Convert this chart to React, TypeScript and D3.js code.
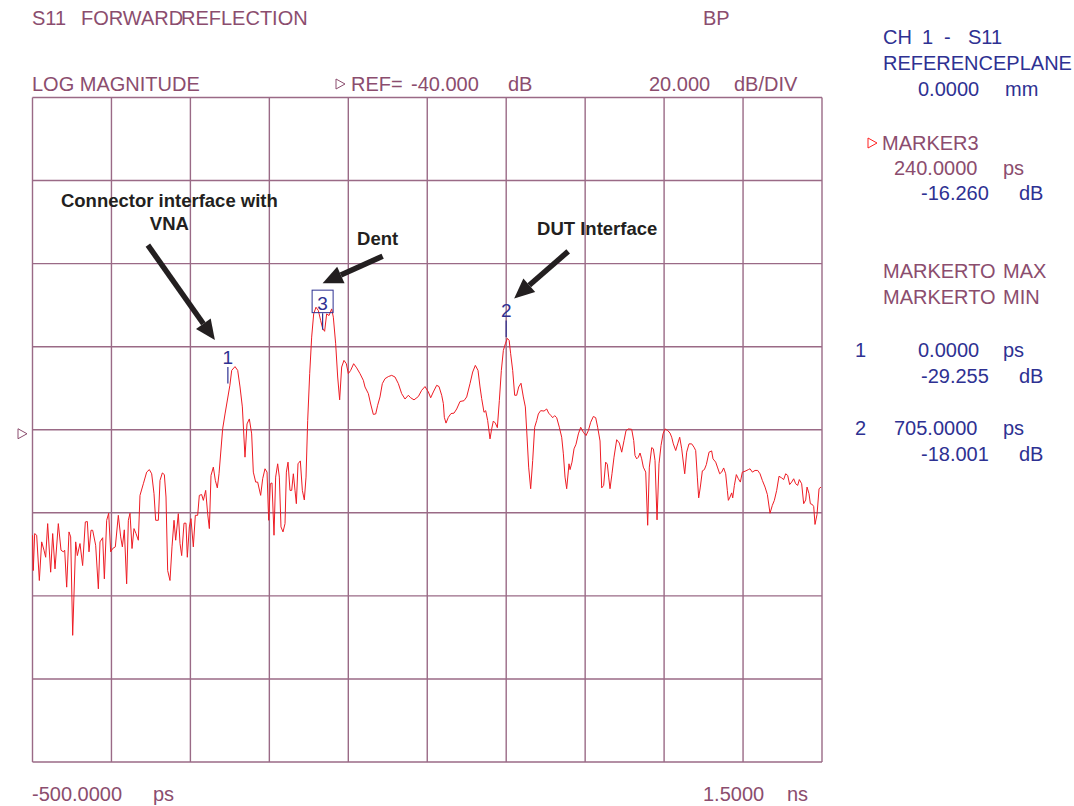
import { useEffect, useRef } from 'react';
import * as d3 from 'd3';

const W = 1074;
const H = 806;
const PLOT = { left: 32.5, right: 822, top: 97.5, bottom: 762 };

const MAROON = '#8b4d6e';
const BLUE = '#2e3192';
const GRID = '#9a6a86';
const TRACE = '#ee1c24';
const FONT = '"Liberation Sans", Arial, sans-serif';

// time axis (ps) and log-mag axis (dB)
const timeStart = -500;
const timeStop = 1500;
const xDivs = 10;
const refDb = -40;
const dbPerDiv = 20;
const yDivs = 8;

// trace, time in ps
const traceTime = [
  -500, -498, -494.5, -489.4, -482.7, -476.8, -470.9, -466.6, -461.6, -454, -448.9, -443, -434.6, -427.8,
  -421.9, -418.5, -413.4, -407.5, -403.3, -398.2, -390.6, -386.4, -379.7, -373, -366.2, -361.1, -356.9,
  -351.8, -347.6, -340, -333.2, -329, -322.2, -318, -312.1, -307, -302, -296.9, -290.2, -282.6, -276.6,
  -272.4, -267.4, -261.5, -257.2, -253, -247.9, -242.9, -237.8, -231.9, -227.7, -219.2, -210.8, -204,
  -198.1, -192.2, -188, -181.2, -177, -171.1, -166, -161.8, -157.6, -151.7, -146.6, -141.5, -137.3,
  -130.6, -126.3, -122.1, -116.2, -111.2, -107.8, -102.7, -98.5, -92.6, -87.5, -81.6, -77.4, -71.5,
  -67.2, -61.3, -56.3, -52, -47.8, -41.9, -36.8, -31.8, -27.5, -18.3, -12.3, 0, 4.6, 13, 19.8, 25.7,
  31.6, 38.3, 43.4, 49.3, 55.2, 59.4, 65.4, 70.4, 78, 83.1, 89, 94.1, 98.3, 102.5, 106.7, 111.8, 116,
  121.1, 125.3, 129.5, 134.6, 139.7, 143.1, 147.3, 152.3, 156.6, 160.8, 165, 168.4, 172.6, 178.5, 183.6,
  188.6, 192.9, 197.1, 202.2, 207.2, 212.3, 218.2, 224.1, 230, 235, 240, 245.2, 251.1, 257.9, 262.1, 268,
  273.1, 278.1, 283.2, 289.1, 295, 300.1, 306, 313.6, 321.2, 329.7, 338.1, 342.3, 350.8, 356.7, 363.4,
  369.4, 374.4, 380.3, 386.2, 393, 401.4, 409.9, 418.3, 426.8, 435.2, 443.7, 452.1, 458, 466.5, 477.4,
  485.9, 494.3, 502.8, 508.7, 515.4, 523.9, 529.8, 536.6, 540.8, 543.3, 547.5, 553.4, 560.2, 567.8,
  574.6, 583, 593.1, 599.9, 608.3, 615.1, 621.8, 628.6, 633.7, 637.9, 643.8, 648, 653.1, 659, 663.2,
  667.4, 672.5, 677.6, 682.6, 687.7, 692.8, 697.8, 703, 707.5, 711.3, 716.4, 721.5, 726.5, 731.6, 737.5,
  743.4, 748.5, 751.9, 756.9, 762, 767.1, 772.1, 777.2, 781.4, 787.3, 795.8, 802.6, 807.6, 813.5, 817.8,
  822.8, 827.9, 834.6, 840.6, 844.8, 849, 853.2, 859.1, 861.7, 866.7, 871.8, 876.8, 882.8, 888.7, 895.4,
  902.2, 908.1, 914, 920.8, 926.7, 931.7, 937.7, 941.9, 946.9, 952, 956.2, 959.6, 963, 968, 973.1,
  979.9, 986.6, 992.6, 998.5, 1003.5, 1009.4, 1017.9, 1023, 1026.3, 1030.6, 1034.8, 1039, 1043.2,
  1047.4, 1053.4, 1058.4, 1062.6, 1068.6, 1072.8, 1077, 1082.1, 1087.1, 1092.2, 1097.3, 1102.3, 1109.1,
  1115, 1119.2, 1123.4, 1129.4, 1134.4, 1139.5, 1144.6, 1152.2, 1157.2, 1163.1, 1169.9, 1175.8, 1180,
  1184.2, 1187.6, 1191.8, 1196.9, 1202, 1207, 1213.8, 1220.5, 1223.9, 1230.7, 1235.8, 1240.8, 1245.9,
  1250.9, 1256, 1260.2, 1262.8, 1267, 1271.2, 1273.8, 1278, 1283, 1288.1, 1293.2, 1298.2, 1305, 1313.4,
  1317.7, 1323.6, 1330.3, 1337.1, 1343, 1348.9, 1355.7, 1361.6, 1368.3, 1374.2, 1379.3, 1385.2, 1391.1,
  1397.9, 1402.9, 1408, 1413.1, 1418.1, 1423.2, 1428.3, 1433.3, 1438.4, 1442.6, 1448.5, 1453.6, 1458.7,
  1462.1, 1467.1, 1470.5, 1475.6, 1479, 1482.3, 1487.4, 1492.5, 1497.5,
];

const traceDb = [
  -65.4, -73.9, -65, -65.4, -76.3, -67, -69, -70.7, -62.6, -74.3, -65, -73.5, -62.6, -69,
  -69.4, -69, -77.9, -64.6, -65.8, -89.5, -67, -70.3, -67.4, -72.7, -62.2, -62.1, -69.4,
  -64.2, -64.2, -67.8, -78.3, -67, -66, -75.9, -61.8, -60.1, -69.4, -68.6, -68.2, -60.6, -65.8,
  -68.2, -64.1, -77.1, -61.8, -60.1, -68.6, -63.8, -65, -66.6, -55.8, -53, -50.2, -49.6,
  -50.6, -55.4, -61.8, -61.8, -52.2, -50.4, -50.8, -56.2, -73.9, -76.3, -68.2, -61.8, -66.6,
  -60.2, -67.4, -70.3, -62.5, -62.5, -70.7, -63.4, -61.4, -68.2, -60.6, -60.6, -55.8, -55.6,
  -57, -54.6, -60.2, -63.8, -51, -49, -52.2, -54, -50.6, -39.8, -36.2, -29.3, -25.7, -24.8, -25.7, -29.7,
  -34.5, -46.6, -38.6, -37.4, -41, -50.2, -52.6, -52.6, -55.8, -51.8, -49.4, -50.2, -61.8, -53, -52.8, -65.4, -51.4,
  -48.2, -51.4, -63.4, -64.6, -62.6, -50.2, -47.8, -54.6, -54.6, -50.6, -54.6, -57.8, -48.2, -47.5, -54.6,
  -56.9, -51.4, -37.8, -26.5, -17.7, -12.1, -10.5, -11.3, -13.7, -15.6, -16.3, -12.1, -12.5, -10.9, -12.9, -19.3,
  -27.3, -32.8, -24.9, -23.3, -24.1, -26.5, -25.7, -24.1, -25.1, -26.5, -28.1, -29.7, -31.3, -33.8, -36.3,
  -36.2, -34.1, -32.1, -28.9, -27.7, -27.2, -26.9, -27.3, -28.9, -31.3, -32.6, -31.7, -32.3, -32.8, -32,
  -30.5, -29.6, -30.9, -32.3, -30.9, -29.3, -29.6, -31.7, -33.7, -37, -38.4, -37, -36.1, -36,
  -35, -33.2, -33, -32.1, -28.9, -26.1, -24.5, -25.7, -29.7, -32.5, -35.8, -35.4, -37.8, -42.2, -39.8,
  -37.9, -38.4, -39.5, -33, -25.7, -20.9, -19.3, -18, -18.5, -21.7, -25.7, -31.7, -31.7, -29.7, -28.8,
  -32.1, -34.5, -40.2, -49, -54.2, -47.4, -39.4, -37.8, -36.2, -35.4, -35.5, -35, -36, -36.6, -37.1,
  -36.6, -37.1, -39.4, -41.8, -45.8, -51.4, -54.2, -48.2, -49.6, -47.8, -44.6, -43.5, -41, -39.4, -40.6,
  -41.4, -40.2, -38.2, -36.8, -37.1, -39.4, -42.7, -54, -53.4, -47.8, -48.3, -51.4, -54.2, -50.6, -46.6,
  -42.4, -43.2, -45.4, -42.6, -40.2, -39.8, -39.9, -42.6, -46.2, -47, -46.6, -45.6, -47,
  -49, -50.2, -63, -49, -44.3, -44.6, -47.4, -61.7, -48.2, -43.8, -41, -39.8, -40.2,
  -40.8, -41.8, -43.4, -45, -43.4, -41.8, -44.6, -50.6, -45.4, -43.4, -43.4, -44.2, -45,
  -51.4, -56.4, -53.8, -49.9, -49.6, -48.4, -45.4, -45.1, -47, -47.8, -49.2, -50.6, -50.2,
  -49.2, -50.6, -54.6, -57, -56.2, -55.2, -56.4, -53.4, -50.8, -51.8, -52.6, -50.2, -50, -49.6,
  -49.4, -50.2, -49.8, -49.8, -50.6, -52.2, -53.8, -55.6, -60.1, -58.2, -57, -54.6, -51.2,
  -51.6, -52, -50.6, -51, -53.2, -52.6, -51.8, -53, -53.4, -52, -53, -57.8, -56.9,
  -53.8, -55.4, -57.8, -58, -58.5, -62.8, -60.4, -54.2, -53.8,
];

// markers: id, stimulus (ps), response (dB)
const markerIds = ['1', '2', '3'];
const markerTime = [0, 705, 240];
const markerDb = [-29.255, -18.001, -16.26];
const activeMarker = '3';

// callouts hang off the markers: text lines, text centre / baseline, arrow tail & tip (px offsets from marker)
const callouts = [
  { marker: '1', lines: ['Connector interface with', 'VNA'], tx: -58.5, ty: -178, tail: [-80, -140], tip: [-13, -45] },
  { marker: '3', lines: ['Dent'], tx: 55, ty: -86, tail: [60, -75], tip: [0, -48] },
  { marker: '2', lines: ['DUT Interface'], tx: 91, ty: -103, tail: [62, -87], tip: [8, -40] },
];

type Txt = { t: string; x: number; y: number; c: string };

const headerText: Txt[] = [
  { t: 'S11', x: 32, y: 25, c: MAROON },
  { t: 'FORWARD', x: 81, y: 25, c: MAROON },
  { t: 'REFLECTION', x: 181, y: 25, c: MAROON },
  { t: 'BP', x: 703, y: 25, c: MAROON },
  { t: 'LOG MAGNITUDE', x: 32, y: 91, c: MAROON },
  { t: 'REF=', x: 351, y: 91, c: MAROON },
  { t: '-40.000', x: 411, y: 91, c: MAROON },
  { t: 'dB', x: 508, y: 91, c: MAROON },
  { t: '20.000', x: 649, y: 91, c: MAROON },
  { t: 'dB/DIV', x: 734, y: 91, c: MAROON },
  { t: '-500.0000', x: 32, y: 801, c: MAROON },
  { t: 'ps', x: 153, y: 801, c: MAROON },
  { t: '1.5000', x: 703, y: 801, c: MAROON },
  { t: 'ns', x: 787, y: 801, c: MAROON },
];

const panelText: Txt[] = [
  { t: 'CH', x: 883, y: 44, c: BLUE },
  { t: '1', x: 922, y: 44, c: BLUE },
  { t: '-', x: 944, y: 44, c: BLUE },
  { t: 'S11', x: 968, y: 44, c: BLUE },
  { t: 'REFERENCEPLANE', x: 883, y: 70, c: BLUE },
  { t: '0.0000', x: 918, y: 96, c: BLUE },
  { t: 'mm', x: 1005, y: 96, c: BLUE },
  { t: 'MARKER3', x: 882, y: 150, c: MAROON },
  { t: '240.0000', x: 894, y: 175, c: MAROON },
  { t: 'ps', x: 1003, y: 175, c: MAROON },
  { t: '-16.260', x: 921, y: 200, c: BLUE },
  { t: 'dB', x: 1019, y: 200, c: BLUE },
  { t: 'MARKERTO', x: 883, y: 278, c: MAROON },
  { t: 'MAX', x: 1003, y: 278, c: MAROON },
  { t: 'MARKERTO', x: 883, y: 304, c: MAROON },
  { t: 'MIN', x: 1003, y: 304, c: MAROON },
  { t: '1', x: 855, y: 357, c: BLUE },
  { t: '0.0000', x: 918, y: 357, c: BLUE },
  { t: 'ps', x: 1003, y: 357, c: BLUE },
  { t: '-29.255', x: 921, y: 383, c: BLUE },
  { t: 'dB', x: 1019, y: 383, c: BLUE },
  { t: '2', x: 855, y: 435, c: BLUE },
  { t: '705.0000', x: 894, y: 435, c: BLUE },
  { t: 'ps', x: 1003, y: 435, c: BLUE },
  { t: '-18.001', x: 921, y: 461, c: BLUE },
  { t: 'dB', x: 1019, y: 461, c: BLUE },
];

export default function App() {
  const svgRef = useRef<SVGSVGElement>(null);

  useEffect(() => {
    if (!svgRef.current) return;
    const svg = d3.select(svgRef.current);
    svg.selectAll('*').remove();

    const x = d3.scaleLinear().domain([timeStart, timeStop]).range([PLOT.left, PLOT.right]);
    const topDb = refDb + (yDivs / 2) * dbPerDiv;
    const botDb = refDb - (yDivs / 2) * dbPerDiv;
    const y = d3.scaleLinear().domain([botDb, topDb]).range([PLOT.bottom, PLOT.top]);

    svg.append('rect').attr('width', W).attr('height', H).attr('fill', '#fff');

    // ── graticule ──
    const grid = svg.append('g').attr('stroke', GRID).attr('stroke-width', 1.4).attr('fill', 'none');
    d3.range(xDivs + 1).forEach(i => {
      const xv = x(timeStart + (i * (timeStop - timeStart)) / xDivs);
      grid.append('line').attr('x1', xv).attr('x2', xv).attr('y1', PLOT.top).attr('y2', PLOT.bottom);
    });
    d3.range(yDivs + 1).forEach(i => {
      const yv = y(botDb + i * dbPerDiv);
      grid.append('line').attr('x1', PLOT.left).attr('x2', PLOT.right).attr('y1', yv).attr('y2', yv);
    });

    // ── trace ──
    const pts = traceTime.map((t, i) => [t, traceDb[i]] as [number, number]);
    const line = d3.line<[number, number]>().x(d => x(d[0])).y(d => y(d[1]));
    svg.append('path').attr('d', line(pts)).attr('fill', 'none')
      .attr('stroke', TRACE).attr('stroke-width', 1).attr('stroke-linejoin', 'round');

    // ── reference position triangles ──
    const tri = (g: d3.Selection<SVGGElement, unknown, null, undefined>, cx: number, cy: number, col: string) =>
      g.append('path')
        .attr('d', `M${cx - 4},${cy - 5} L${cx + 5},${cy} L${cx - 4},${cy + 5} Z`)
        .attr('fill', 'none').attr('stroke', col).attr('stroke-width', 1);
    const deco = svg.append('g');
    tri(deco, 22, y(refDb) + 4, MAROON);
    tri(deco, 340, 84, MAROON);
    tri(deco, 872, 143, '#ff2020');

    // ── markers ──
    const mk = svg.append('g').attr('font-family', FONT);
    const markerPos: Record<string, [number, number]> = {};
    markerIds.forEach((id, i) => {
      const mx = x(markerTime[i]) - 2;
      const my = y(markerDb[i]);
      markerPos[id] = [mx, my];
      const tickTop = my - 18;
      mk.append('line').attr('x1', mx).attr('x2', mx).attr('y1', my - 1.5).attr('y2', tickTop)
        .attr('stroke', BLUE).attr('stroke-width', 1.2);
      mk.append('text').attr('x', mx).attr('y', tickTop - 3).attr('text-anchor', 'middle')
        .attr('font-size', 19).attr('fill', BLUE).text(id);
      if (id === activeMarker) {
        mk.append('rect').attr('x', mx - 10.5).attr('y', tickTop - 23).attr('width', 21).attr('height', 22.5)
          .attr('fill', 'none').attr('stroke', BLUE).attr('stroke-width', 1);
      }
    });

    // ── callouts ──
    const co = svg.append('g').attr('font-family', FONT);
    callouts.forEach(c => {
      const [mx, my] = markerPos[c.marker];
      c.lines.forEach((l, k) => {
        co.append('text').attr('x', mx + c.tx).attr('y', my + c.ty + k * 23)
          .attr('text-anchor', 'middle').attr('font-size', 18.5).attr('font-weight', 700)
          .attr('fill', '#231f20').text(l);
      });
      const x1 = mx + c.tail[0], y1 = my + c.tail[1];
      const x2 = mx + c.tip[0], y2 = my + c.tip[1];
      const ang = Math.atan2(y2 - y1, x2 - x1);
      const headLen = 20, headW = 9;
      const bx = x2 - headLen * Math.cos(ang), by = y2 - headLen * Math.sin(ang);
      co.append('line').attr('x1', x1).attr('y1', y1).attr('x2', bx).attr('y2', by)
        .attr('stroke', '#231f20').attr('stroke-width', 5.5);
      const nx = -Math.sin(ang), ny = Math.cos(ang);
      co.append('path')
        .attr('d', `M${x2},${y2} L${bx + nx * headW},${by + ny * headW} L${bx - nx * headW},${by - ny * headW} Z`)
        .attr('fill', '#231f20');
    });

    // ── annotation text ──
    const tx = svg.append('g').attr('font-family', FONT).attr('font-size', 20);
    [...headerText, ...panelText].forEach(d => {
      tx.append('text').attr('x', d.x).attr('y', d.y).attr('fill', d.c).text(d.t);
    });
  }, []);

  return (
    <svg ref={svgRef} width={W} height={H}
      style={{ position: 'absolute', left: 0, top: 0, display: 'block' }} />
  );
}
